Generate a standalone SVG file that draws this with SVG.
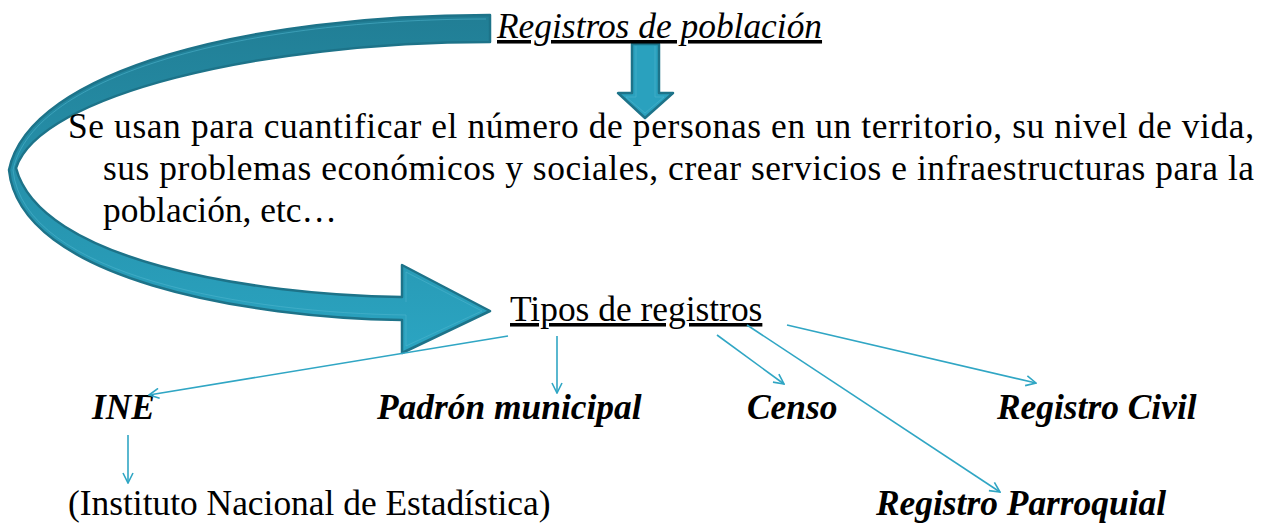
<svg xmlns="http://www.w3.org/2000/svg" width="1265" height="525" viewBox="0 0 1265 525">
<style>
text{font-family:"Liberation Serif","Times New Roman",serif;font-size:35.4px;fill:#000}
.bi{font-style:italic;font-weight:bold}
.it{font-style:italic}
.con{stroke:#30a6c4;stroke-width:1.6;fill:none;marker-end:url(#ah)}
.big{stroke:#1d7389;stroke-width:2.5;stroke-linejoin:round}
.hl{fill:none;stroke:#4fb6cf;stroke-width:0.8;stroke-opacity:0.7}
</style>
<defs>
<linearGradient id="g" x1="0" y1="0" x2="0" y2="1">
<stop offset="0" stop-color="#217e95"/>
<stop offset="1" stop-color="#2ba5c2"/>
</linearGradient>
<marker id="ah" viewBox="0 0 12 12" refX="11" refY="6" markerWidth="12" markerHeight="12" markerUnits="userSpaceOnUse" orient="auto">
<path d="M1,1 L11,6 L1,11" fill="none" stroke="#30a6c4" stroke-width="1.6"/>
</marker>
</defs>
<g id="curved-arrow">
<path class="big" fill="url(#g)" d="M490,15 C250,15 30,70 9,170 C20,280 250,318 402,320 L402,353 L490,311 L402,265 L402,297 C250,295 40,260 16,168 C40,95 260,42 490,42 Z"/>
<path class="hl" d="M486,19 C250,19 34,73 13,170 C24,277 250,313 406,315 L406,346 L482,311 L406,272 L406,302"/>
</g>
<g id="down-arrow">
<polygon class="big" fill="#2aa1be" points="632,44 659,44 659,93 673,93 645,118 618,93 632,93"/>
<polyline class="hl" points="636,46 636,97 626,97 645,113 664,97 655,97 655,46"/>
</g>
<g id="title">
<text class="it" x="497" y="38" text-decoration="underline">Registros de población</text>
</g>
<g id="paragraph">
<text x="68" y="138" textLength="1186" lengthAdjust="spacing">Se usan para cuantificar el número de personas en un territorio, su nivel de vida,</text>
<text x="103" y="180" textLength="1151" lengthAdjust="spacing">sus problemas económicos y sociales, crear servicios e infraestructuras para la</text>
<text x="103" y="222">población, etc…</text>
</g>
<g id="tipos">
<text x="510" y="321" text-decoration="underline">Tipos de registros</text>
</g>
<g id="ine"><text class="bi" x="92" y="419">INE</text></g>
<g id="padron"><text class="bi" x="377" y="419">Padrón municipal</text></g>
<g id="censo"><text class="bi" x="747" y="419">Censo</text></g>
<g id="civil"><text class="bi" x="997" y="419">Registro Civil</text></g>
<g id="parroquial"><text class="bi" x="876" y="515">Registro Parroquial</text></g>
<g id="instituto"><text x="68" y="515">(Instituto Nacional de Estadística)</text></g>
<g id="connectors">
<line class="con" x1="508" y1="336" x2="149" y2="395"/>
<line class="con" x1="557" y1="336" x2="557" y2="393"/>
<line class="con" x1="717" y1="335" x2="784" y2="384"/>
<line class="con" x1="747" y1="325" x2="1000" y2="492"/>
<line class="con" x1="787" y1="325" x2="1036" y2="383"/>
<line class="con" x1="128" y1="435" x2="128" y2="483"/>
</g>
</svg>
